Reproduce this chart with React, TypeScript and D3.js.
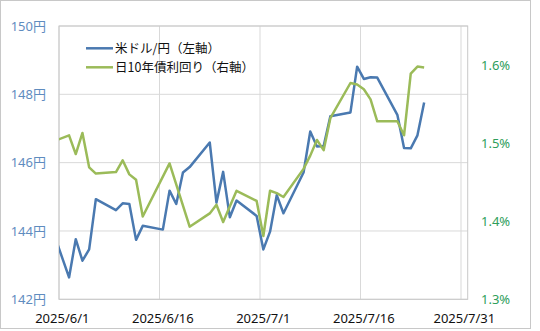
import React, { useEffect } from "react";
import * as d3 from "d3";

const usdDates = [
  "2025-05-30", "2025-06-02", "2025-06-03", "2025-06-04", "2025-06-05", "2025-06-06",
  "2025-06-09", "2025-06-10", "2025-06-11", "2025-06-12", "2025-06-13",
  "2025-06-16", "2025-06-17", "2025-06-18", "2025-06-19", "2025-06-20",
  "2025-06-23", "2025-06-24", "2025-06-25", "2025-06-26", "2025-06-27",
  "2025-06-30", "2025-07-01", "2025-07-02", "2025-07-03", "2025-07-04",
  "2025-07-07", "2025-07-08", "2025-07-09", "2025-07-10", "2025-07-11",
  "2025-07-14", "2025-07-15", "2025-07-16", "2025-07-17", "2025-07-18",
  "2025-07-21", "2025-07-22", "2025-07-23", "2025-07-24", "2025-07-25",
];
const usdValues = [
  144.33, 142.64, 143.76, 143.13, 143.46, 144.93,
  144.61, 144.81, 144.79, 143.74, 144.15,
  144.04, 145.18, 144.79, 145.71, 145.87,
  146.59, 144.83, 145.73, 144.4, 144.89,
  144.44, 143.46, 143.98, 145.05, 144.52,
  145.71, 146.91, 146.47, 146.49, 147.36,
  147.47, 148.81, 148.45, 148.5, 148.49,
  147.4, 146.43, 146.42, 146.8, 147.76,
];

const jgbDates = [
  "2025-05-30", "2025-06-02", "2025-06-03", "2025-06-04", "2025-06-05", "2025-06-06",
  "2025-06-09", "2025-06-10", "2025-06-11", "2025-06-12", "2025-06-13",
  "2025-06-17", "2025-06-20",
  "2025-06-23", "2025-06-24", "2025-06-25", "2025-06-27",
  "2025-06-30", "2025-07-01", "2025-07-02", "2025-07-03", "2025-07-04",
  "2025-07-07", "2025-07-08", "2025-07-09", "2025-07-10", "2025-07-11",
  "2025-07-14", "2025-07-15", "2025-07-16", "2025-07-17", "2025-07-18",
  "2025-07-21", "2025-07-22", "2025-07-23", "2025-07-24", "2025-07-25",
];
const jgbValues = [
  1.5, 1.51, 1.486, 1.513, 1.469, 1.461,
  1.463, 1.478, 1.46, 1.453, 1.406,
  1.474, 1.393,
  1.41, 1.421, 1.399, 1.439,
  1.426, 1.381, 1.439, 1.436, 1.431,
  1.467, 1.484, 1.504, 1.491, 1.532,
  1.577, 1.575, 1.569, 1.556, 1.528,
  1.528, 1.51, 1.589, 1.598, 1.597,
];

const xTickDates = ["2025-06-01", "2025-06-16", "2025-07-01", "2025-07-16", "2025-07-31"];
const xTickLabels = ["2025/6/1", "2025/6/16", "2025/7/1", "2025/7/16", "2025/7/31"];
const leftTicks = [142, 144, 146, 148, 150];
const rightTicks = [1.3, 1.4, 1.5, 1.6];
const seriesNames = ["米ドル/円（左軸）", "日10年債利回り（右軸）"];

const W = 540;
const H = 331;
const plot = { left: 59, right: 467.7, top: 26, bottom: 299.3 };
const BLUE = "#4a79b0";
const GREEN = "#9bbb59";
const BLUE_TEXT = "#5f8cbf";
const GREEN_TEXT = "#2e9e5b";
const FONT = "'Noto Sans', 'Noto Sans CJK JP', sans-serif";

const parse = (s: string) => {
  const [y, m, d] = s.split("-").map(Number);
  return new Date(y, m - 1, d);
};
const HALF_DAY = 12 * 3600 * 1000;

export default function App() {
  useEffect(() => {
    document.body.style.margin = "0";
  }, []);

  const x = d3
    .scaleTime()
    .domain([parse("2025-06-01"), parse("2025-08-01")])
    .range([plot.left, plot.right]);
  const yL = d3.scaleLinear().domain([142, 150]).range([plot.bottom, plot.top]);
  const yR = d3.scaleLinear().domain([1.3, 1.65]).range([plot.bottom, plot.top]);

  const px = (s: string) => x(new Date(parse(s).getTime() + HALF_DAY));

  const usdLine = d3
    .line<number>()
    .x((_, i) => px(usdDates[i]))
    .y((v) => yL(v))(usdValues) as string;
  const jgbLine = d3
    .line<number>()
    .x((_, i) => px(jgbDates[i]))
    .y((v) => yR(v))(jgbValues) as string;

  return (
    <svg
      width={W}
      height={H}
      style={{ position: "absolute", left: 0, top: 0, background: "#fff" }}
      fontFamily={FONT}
    >
      <defs>
        <clipPath id="plotclip">
          <rect x={plot.left} y={plot.top} width={plot.right - plot.left} height={plot.bottom - plot.top} />
        </clipPath>
      </defs>
      <rect x={0.5} y={0.5} width={530} height={328} fill="#fff" stroke="#c8c8c8" />
      {/* horizontal gridlines */}
      {leftTicks.map((t) => (
        <line key={"h" + t} x1={plot.left} x2={plot.right} y1={yL(t)} y2={yL(t)} stroke="#d9d9d9" strokeWidth={1} />
      ))}
      {/* vertical gridlines */}
      {xTickDates.map((d) => (
        <line key={"v" + d} x1={x(parse(d))} x2={x(parse(d))} y1={plot.top} y2={plot.bottom} stroke="#d9d9d9" strokeWidth={1} />
      ))}
      <rect
        x={plot.left}
        y={plot.top}
        width={plot.right - plot.left}
        height={plot.bottom - plot.top}
        fill="none"
        stroke="#c8c8c8"
        strokeWidth={1}
      />
      <g clipPath="url(#plotclip)">
        <path d={usdLine} fill="none" stroke={BLUE} strokeWidth={2.5} strokeLinejoin="round" />
        <path d={jgbLine} fill="none" stroke={GREEN} strokeWidth={2.5} strokeLinejoin="round" />
      </g>
      {/* left axis labels */}
      {leftTicks.map((t) => (
        <text key={"l" + t} x={46} y={yL(t)} dy="0.35em" textAnchor="end" fontSize={13} fill={BLUE_TEXT}>
          {t}円
        </text>
      ))}
      {/* right axis labels */}
      {rightTicks.map((t) => (
        <text key={"r" + t} x={481} y={yR(t)} dy="0.35em" textAnchor="start" fontSize={13} fill={GREEN_TEXT}>
          {t.toFixed(1)}%
        </text>
      ))}
      {/* x axis labels */}
      {xTickDates.map((d, i) => (
        <text
          key={"x" + d}
          x={x(new Date(parse(d).getTime() + HALF_DAY))}
          y={322.5}
          textAnchor="middle"
          fontSize={13}
          fill="#111"
        >
          {xTickLabels[i]}
        </text>
      ))}
      {/* legend */}
      {seriesNames.map((name, i) => (
        <g key={name} transform={`translate(0, ${48.3 + i * 19})`}>
          <line x1={86} x2={113} y1={0} y2={0} stroke={i === 0 ? BLUE : GREEN} strokeWidth={2.5} />
          <text x={115} y={0} dy="0.35em" fontSize={12.5} fill="#111" fontFamily="'Noto Sans CJK JP', sans-serif">
            {name}
          </text>
        </g>
      ))}
    </svg>
  );
}
